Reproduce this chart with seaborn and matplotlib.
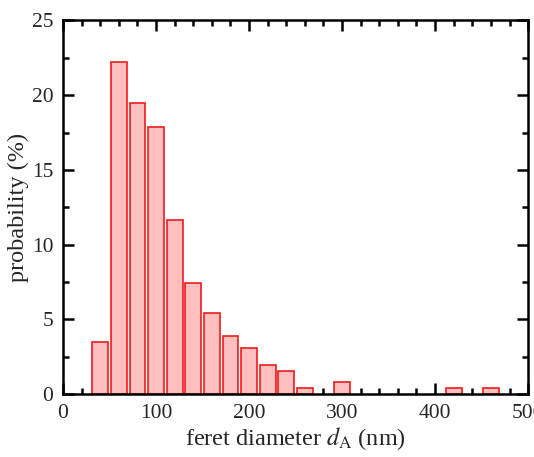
import numpy as np
import pandas as pd
import matplotlib
matplotlib.use("Agg")
import matplotlib.pyplot as plt
from matplotlib.ticker import MultipleLocator
import seaborn as sns

# bin centres (nm) and probability (%)
diametro = [40, 60, 80, 100, 120, 140, 160, 180, 200, 220, 240, 260, 300, 420, 460]
probabilidad = [3.5, 22.2, 19.45, 17.9, 11.65, 7.4, 5.45, 3.9, 3.1, 1.95, 1.55, 0.4, 0.8, 0.4, 0.4]

sns.set_theme(style="ticks")
plt.rcParams['font.family'] = ['Liberation Serif', 'DejaVu Serif']
plt.rcParams['mathtext.fontset'] = 'stix'

df = pd.DataFrame({"d": diametro, "p": probabilidad})

fig = plt.figure(figsize=(5.34, 4.57), dpi=100)
ax = fig.add_axes([0.118, 0.1378, 0.871, 0.8175])

sns.barplot(data=df, x="d", y="p", native_scale=True, width=0.85,
            color="#ffbfbf", edgecolor="#ee1c1c", linewidth=1.2,
            saturation=1, ax=ax)

ax.set_xlim(0, 500)
ax.set_ylim(0, 25)
ax.xaxis.set_major_locator(MultipleLocator(100))
ax.xaxis.set_minor_locator(MultipleLocator(20))
ax.yaxis.set_major_locator(MultipleLocator(5))
ax.yaxis.set_minor_locator(MultipleLocator(2.5))
ax.tick_params(which="both", direction="in", top=True, right=True,
               labeltop=False, labelright=False, width=1.8, color="black")
ax.tick_params(which="major", length=8, labelsize=15.5, pad=7)
ax.tick_params(which="minor", length=4.5)
for s in ax.spines.values():
    s.set_linewidth(1.8)
    s.set_color("black")

ax.set_xlabel(r"feret diameter $d_\mathrm{A}$ (nm)", fontsize=17.5, labelpad=2)
ax.set_ylabel("probability (%)", fontsize=17.5, labelpad=2)

fig.savefig("out.png", dpi=100)
